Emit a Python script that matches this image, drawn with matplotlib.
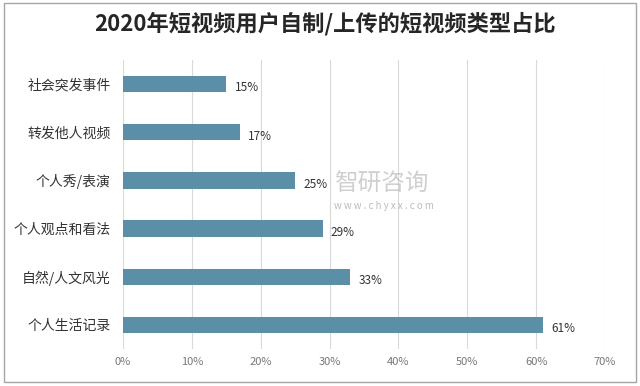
import matplotlib.pyplot as plt
from matplotlib.patches import Rectangle

plt.rcParams['font.family'] = ['Noto Sans CJK SC', 'DejaVu Sans']

# 데이터
categories = ["社会突发事件", "转发他人视频", "个人秀/表演", "个人观点和看法", "自然/人文风光", "个人生活记录"]
values = [15, 17, 25, 29, 33, 61]
xticks = [0, 10, 20, 30, 40, 50, 60, 70]

bar_color = "#5b8fa8"

fig = plt.figure(figsize=(6.4, 3.86), dpi=100)
ax = fig.add_axes([123 / 640, 1 - 349 / 386, (605 - 123) / 640, (349 - 60) / 386])

ypos = list(range(len(categories)))
ax.barh(ypos, values, height=0.34, color=bar_color, zorder=3)
ax.set_ylim(len(categories) - 0.5, -0.5)
ax.set_xlim(0, 70)

for y, v in zip(ypos, values):
    ax.text(v + 1.2, y + 0.08, f"{v}%", va="center", ha="left", fontsize=8.5, color="#333333", zorder=4)

ax.set_yticks(ypos)
ax.set_yticklabels(categories, fontsize=10, color="#333333")
ax.set_xticks(xticks)
ax.set_xticklabels([f"{t}%" for t in xticks], fontsize=8, color="#777777")
ax.tick_params(axis="y", length=0, pad=9)
ax.tick_params(axis="x", length=0, pad=6)
ax.grid(axis="x", color="#d9d9d9", linewidth=0.8, zorder=0)
for s in ax.spines.values():
    s.set_visible(False)

# 제목
fig.text(325 / 640, 1 - 24 / 386, "2020年短视频用户自制/上传的短视频类型占比", ha="center", va="center",
         fontsize=16, fontweight="bold", color="#262626")

# 워터마크 (25% 라벨과 겹치지 않게 오른쪽으로)
fig.text(334 / 640, 1 - 184 / 386, "智研咨询", ha="left", va="center", fontsize=17,
         color="#b0b0b0", alpha=0.6, zorder=10)
fig.text(334 / 640, 1 - 206 / 386, "w w w . c h y x x . c o m", ha="left", va="center", fontsize=7,
         color="#a0a0a0", alpha=0.7, zorder=10)

# 바깥 테두리
fig.patches.append(Rectangle((4 / 640, 4 / 386), 632 / 640, 379 / 386, transform=fig.transFigure,
                             fill=False, edgecolor="#a6a6a6", linewidth=1))

fig.savefig("out.png", dpi=100)
